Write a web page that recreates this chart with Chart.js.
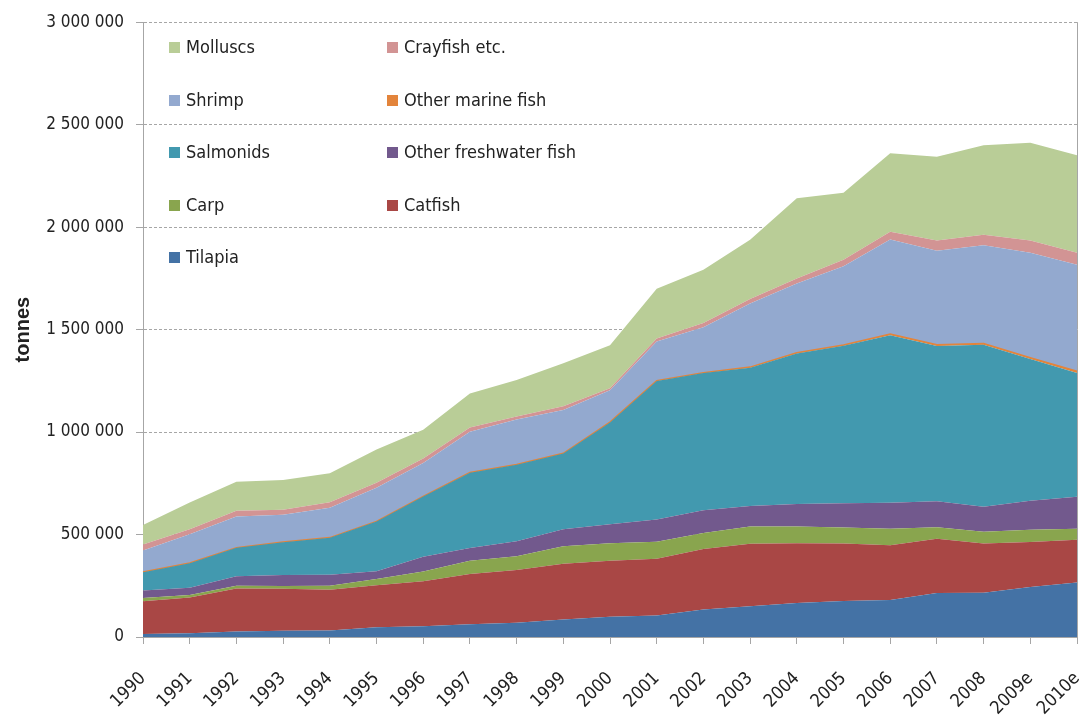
<!DOCTYPE html>
<html>
<head>
<meta charset="utf-8">
<script src="https://cdn.jsdelivr.net/npm/chart.js@4"></script>
<style>
  body { margin: 0; background: #fff; }
  #wrap { position: relative; width: 1081px; height: 724px; }
  #legenda { position: absolute; left: 0; top: 0; font-family: 'DejaVu Sans Condensed', sans-serif; font-size: 18px; color: #222; }
  .item { position: absolute; white-space: nowrap; line-height: 24px; }
  .item span { display: inline-block; width: 11px; height: 11px; margin-right: 6px; vertical-align: 0px; }
</style>
</head>
<body>
<div id="wrap">
  <canvas id="grafico" width="1081" height="724"></canvas>
  <div id="legenda"></div>
</div>
<script>
const anos = ['1990', '1991', '1992', '1993', '1994', '1995', '1996', '1997', '1998', '1999', '2000',
              '2001', '2002', '2003', '2004', '2005', '2006', '2007', '2008', '2009e', '2010e'];

// toneladas, de baixo pra cima
const tilapia     = [15000, 18000, 27000, 30000, 32000, 48000, 52000, 62000, 69000, 85000, 99000, 105000, 134000, 150000, 166000, 176000, 180000, 215000, 216000, 244000, 266000];
const catfish     = [160000, 175000, 210000, 205000, 199000, 204000, 220000, 245000, 258000, 273000, 273000, 277000, 296000, 305000, 291000, 280000, 268000, 265000, 240000, 219000, 208000];
const carp        = [15000, 12000, 13000, 14000, 19000, 31000, 48000, 65000, 67000, 85000, 85000, 83000, 78000, 84000, 82000, 78000, 80000, 55000, 57000, 60000, 54000];
const otherFw     = [37000, 35000, 47000, 53000, 54000, 38000, 72000, 62000, 73000, 83000, 93000, 108000, 110000, 100000, 110000, 119000, 127000, 128000, 123000, 142000, 156000];
const salmonids   = [89000, 120000, 138000, 160000, 180000, 242000, 293000, 368000, 373000, 369000, 497000, 676000, 670000, 675000, 734000, 768000, 818000, 757000, 790000, 691000, 604000];
const otherMarine = [1000, 1000, 1000, 1000, 1000, 1000, 1000, 1000, 1500, 1500, 1500, 2000, 2000, 3000, 4000, 4000, 6000, 6000, 6000, 7000, 9000];
const shrimp      = [105000, 140000, 152000, 133000, 146000, 164000, 163000, 199000, 220000, 211000, 155000, 191000, 222000, 310000, 338000, 384000, 461000, 459000, 479000, 512000, 520000];
const crayfish    = [29000, 25000, 28000, 25000, 26000, 25000, 22000, 20000, 15000, 18000, 10000, 15000, 20000, 22000, 24000, 32000, 37000, 50000, 52000, 60000, 58000];
const molluscs    = [95000, 130000, 142000, 145000, 142000, 162000, 140000, 166000, 178000, 210000, 210000, 242000, 260000, 290000, 392000, 327000, 384000, 409000, 436000, 477000, 476000];

const series = [
  { label: 'Tilapia', data: tilapia, cor: '#4472a5' },
  { label: 'Catfish', data: catfish, cor: '#a94745' },
  { label: 'Carp', data: carp, cor: '#89a54e' },
  { label: 'Other freshwater fish', data: otherFw, cor: '#72598d' },
  { label: 'Salmonids', data: salmonids, cor: '#4299af' },
  { label: 'Other marine fish', data: otherMarine, cor: '#e3843b' },
  { label: 'Shrimp', data: shrimp, cor: '#93a9cf' },
  { label: 'Crayfish etc.', data: crayfish, cor: '#d29494' },
  { label: 'Molluscs', data: molluscs, cor: '#b9cd97' }
];

const FONTE = "'DejaVu Sans Condensed', sans-serif";
const CINZA = '#a6a6a6';

function milhar(v) {
  return String(v).replace(/\B(?=(\d{3})+(?!\d))/g, ' ');
}

new Chart(document.getElementById('grafico'), {
  type: 'line',
  data: {
    labels: anos,
    datasets: series.map((s, i) => ({
      label: s.label,
      data: s.data,
      backgroundColor: s.cor,
      borderColor: s.label === 'Other marine fish' ? s.cor : 'transparent',
      borderWidth: s.label === 'Other marine fish' ? 1.5 : 0,
      fill: i === 0 ? 'origin' : '-1',
      pointRadius: 0,
      tension: 0
    }))
  },
  options: {
    responsive: false,
    animation: false,
    layout: { padding: { top: 19, right: 4, left: 0, bottom: 0 } },
    plugins: {
      legend: { display: false },
      tooltip: { enabled: false }
    },
    scales: {
      x: {
        offset: false,
        afterFit(scale) { scale.height = 87; scale.paddingLeft = 0; scale.paddingRight = 0; },
        grid: {
          drawOnChartArea: true,
          color: c => c.index === anos.length - 1 ? CINZA : 'rgba(0,0,0,0)',
          tickColor: CINZA,
          tickLength: 7
        },
        border: { color: CINZA, width: 1 },
        ticks: {
          minRotation: 45,
          maxRotation: 45,
          autoSkip: false,
          padding: 24,
          color: '#222',
          font: { family: FONTE, size: 18 }
        }
      },
      y: {
        stacked: true,
        min: 0,
        max: 3000000,
        afterFit(scale) { scale.width = 143; },
        grid: { color: CINZA, tickColor: CINZA, tickLength: 7 },
        border: { color: CINZA, width: 1, dash: [3, 2] },
        ticks: {
          stepSize: 500000,
          padding: 12,
          color: '#222',
          font: { family: FONTE, size: 17 },
          callback: v => milhar(v)
        },
        title: {
          display: true,
          text: 'tonnes',
          color: '#222',
          padding: { top: 11, bottom: 0 },
          font: { family: "'Liberation Sans', sans-serif", size: 20, weight: 'bold' }
        }
      }
    }
  }
});

// legenda em duas colunas dentro da area do grafico
const ordemLegenda = [
  ['Molluscs', 'Crayfish etc.'],
  ['Shrimp', 'Other marine fish'],
  ['Salmonids', 'Other freshwater fish'],
  ['Carp', 'Catfish'],
  ['Tilapia', null]
];
const legenda = document.getElementById('legenda');
ordemLegenda.forEach((linha, r) => {
  linha.forEach((nome, c) => {
    if (!nome) return;
    const s = series.find(x => x.label === nome);
    const div = document.createElement('div');
    div.className = 'item';
    div.style.left = (c === 0 ? 169 : 387) + 'px';
    div.style.top = (35 + r * 52.5) + 'px';
    div.innerHTML = `<span style="background:${s.cor}"></span>${nome}`;
    legenda.appendChild(div);
  });
});
</script>
</body>
</html>
